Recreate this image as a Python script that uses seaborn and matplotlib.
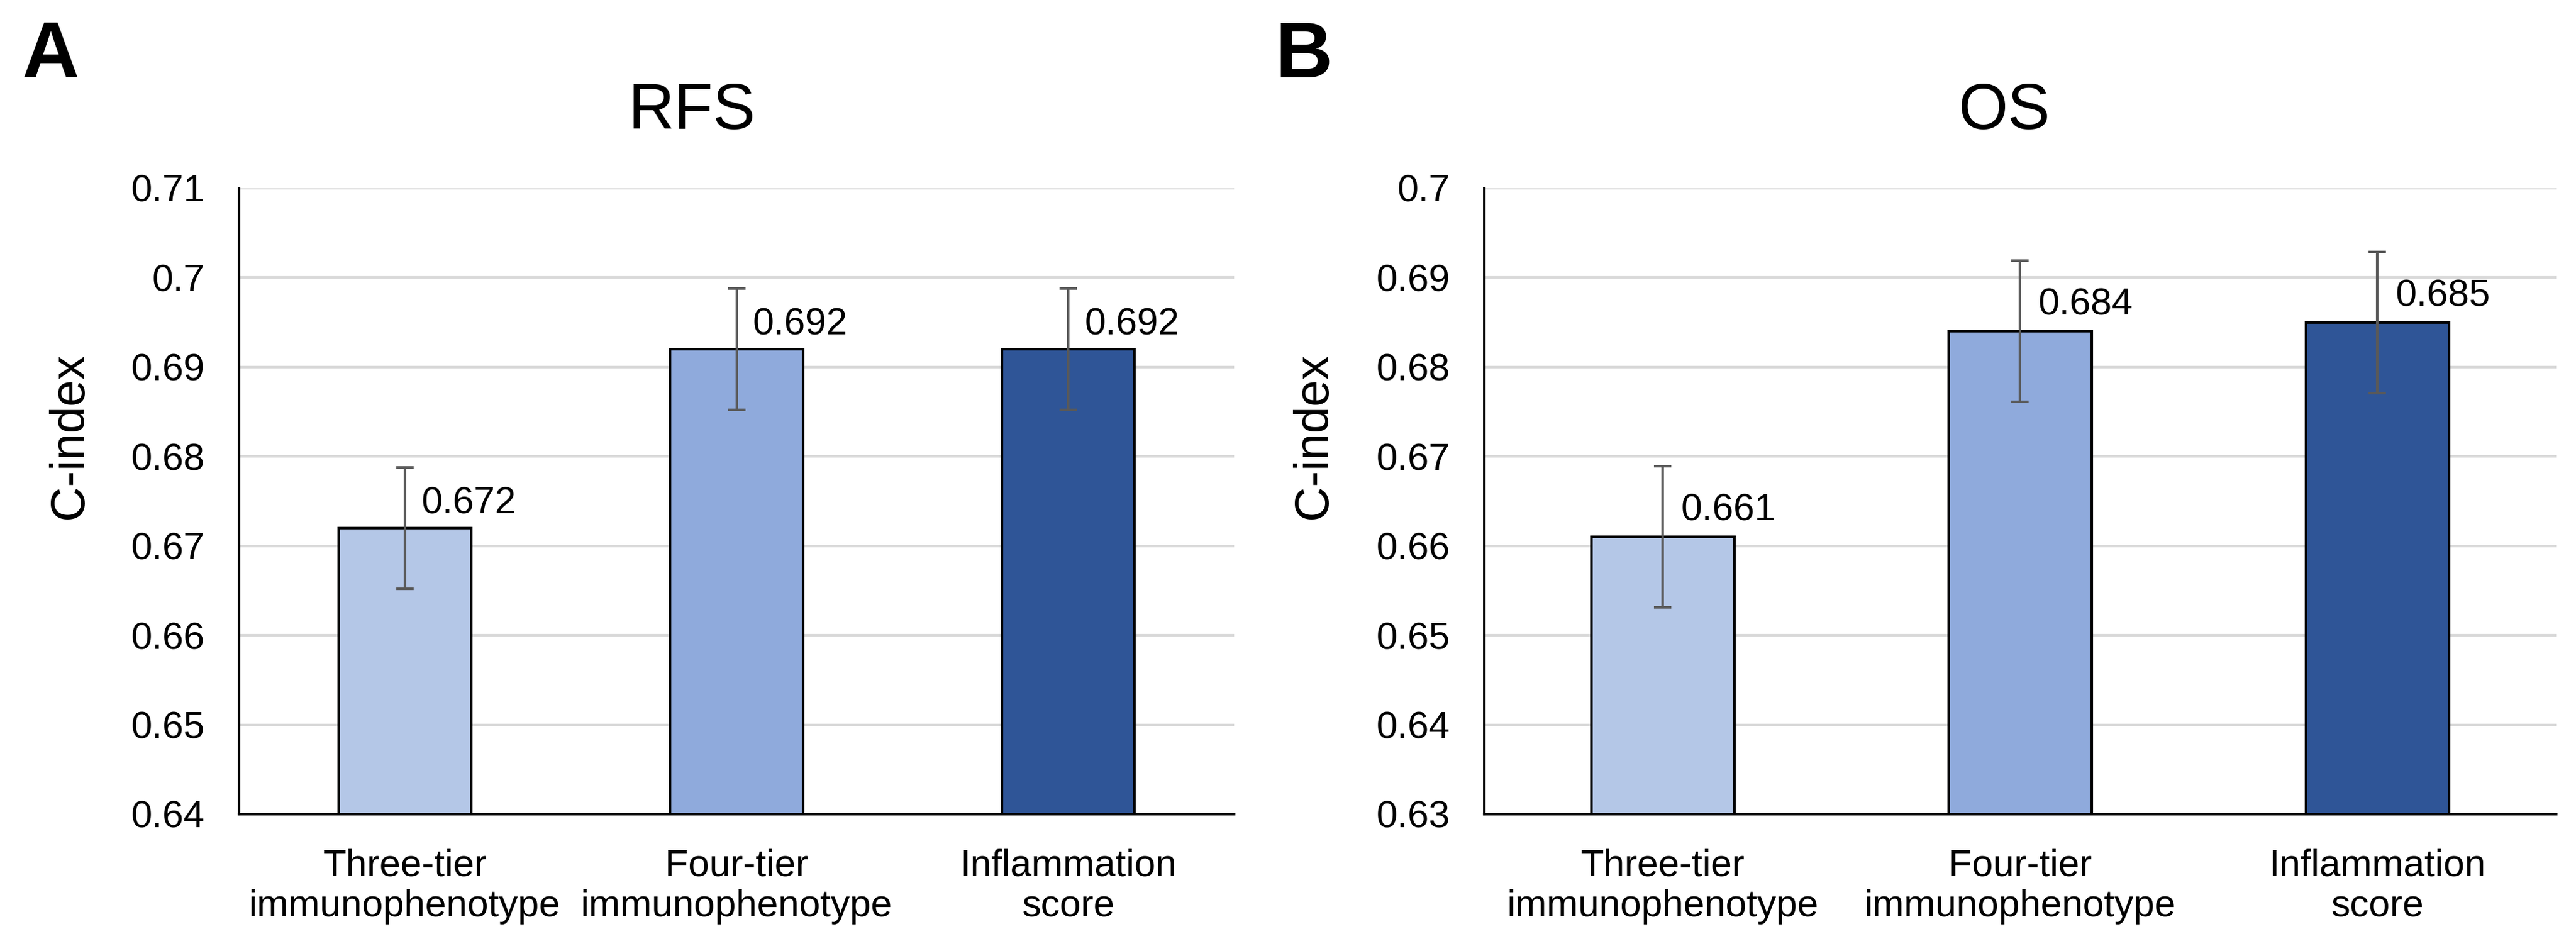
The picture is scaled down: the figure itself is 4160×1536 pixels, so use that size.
import numpy as np
import pandas as pd
import matplotlib
matplotlib.use('Agg')
import matplotlib.pyplot as plt
import seaborn as sns

# data
categories = ['Three-tier\nimmunophenotype', 'Four-tier\nimmunophenotype', 'Inflammation\nscore']
bar_colors = ['#B4C7E7', '#8FAADC', '#2F5597']

rfs_cindex = [0.672, 0.692, 0.692]
rfs_lower = [0.6652, 0.6852, 0.6852]
rfs_upper = [0.6788, 0.6988, 0.6988]

os_cindex = [0.661, 0.684, 0.685]
os_lower = [0.6531, 0.6761, 0.6771]
os_upper = [0.6689, 0.6919, 0.6929]

sns.set_style('white')
plt.rcParams['font.family'] = ['Liberation Sans', 'DejaVu Sans']
plt.rcParams['text.color'] = 'black'
plt.rcParams['xtick.color'] = 'black'
plt.rcParams['ytick.color'] = 'black'
plt.rcParams['axes.labelcolor'] = 'black'

fig = plt.figure(figsize=(20.8, 7.68), dpi=200)
ax_a = fig.add_axes([0.0928, 0.1439, 0.3863, 0.6582])
ax_b = fig.add_axes([0.5762, 0.1439, 0.4161, 0.6582])


def draw_panel(ax, vals, lo, hi, ylim, label_off):
    df = pd.DataFrame({'cat': categories, 'val': vals})
    sns.barplot(data=df, x='cat', y='val', hue='cat', palette=bar_colors,
                saturation=1, legend=False, width=0.4, edgecolor='black',
                linewidth=1.5, errorbar=None, ax=ax, zorder=2)
    vals = np.array(vals)
    err = np.array([vals - np.array(lo), np.array(hi) - vals])
    ax.errorbar(np.arange(len(vals)), vals, yerr=err, fmt='none',
                ecolor='#595959', elinewidth=1.5, capsize=5, capthick=1.5, zorder=3)
    for i, v in enumerate(vals):
        ax.annotate(f'{v:.3f}', (i, v), xytext=label_off, textcoords='offset points',
                    ha='left', va='baseline', fontsize=22, color='black', zorder=4)
    ticks = np.round(np.arange(ylim[0], ylim[1] + 0.0001, 0.01), 2)
    ax.set_ylim(*ylim)
    ax.set_yticks(ticks)
    ax.set_yticklabels([f'{t:g}' for t in ticks])
    ax.yaxis.grid(True, color='#d9d9d9', linewidth=1.5, zorder=0)
    ax.set_axisbelow(True)
    ax.set_xlabel('')
    ax.set_ylabel('')
    ax.tick_params(axis='both', length=0, labelsize=22, pad=20, labelcolor='black')
    for s in ['top', 'right']:
        ax.spines[s].set_visible(False)
    for s in ['left', 'bottom']:
        ax.spines[s].set_color('black')
        ax.spines[s].set_linewidth(1.5)
    ax.set_xlim(-0.5, 2.5)


draw_panel(ax_a, rfs_cindex, rfs_lower, rfs_upper, (0.64, 0.71), (9.5, 8.5))
draw_panel(ax_b, os_cindex, os_lower, os_upper, (0.63, 0.70), (10.5, 9.5))

# titles, panel letters, y labels
fig.text(0.2685, 0.8646, 'RFS', ha='center', va='baseline', fontsize=37, color='black')
fig.text(0.778, 0.8646, 'OS', ha='center', va='baseline', fontsize=37, color='black')
fig.text(0.0087, 0.9186, 'A', ha='left', va='baseline', fontsize=46, fontweight='bold', color='black')
fig.text(0.495, 0.9186, 'B', ha='left', va='baseline', fontsize=46, fontweight='bold', color='black')
fig.text(0.027, 0.542, 'C-index', rotation=90, ha='center', va='center', fontsize=28, color='black')
fig.text(0.510, 0.542, 'C-index', rotation=90, ha='center', va='center', fontsize=28, color='black')

fig.savefig('out.png', dpi=200, facecolor='white')
